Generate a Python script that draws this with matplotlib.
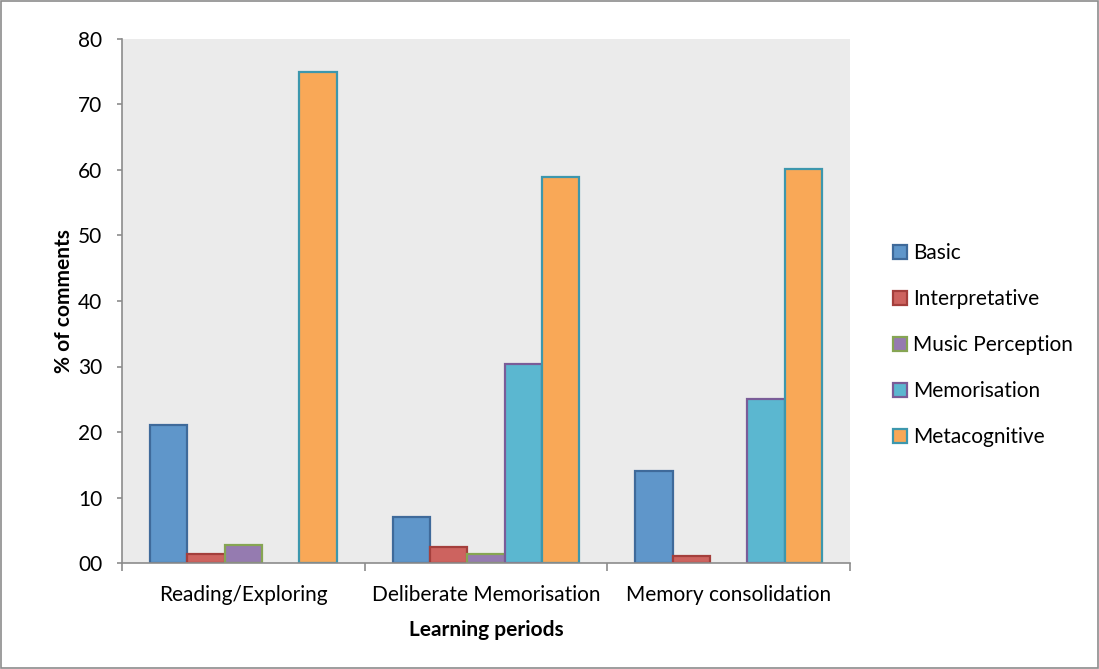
import numpy as np
import matplotlib.pyplot as plt
from matplotlib.patches import Patch, Rectangle

# data
periods = ['Reading/Exploring', 'Deliberate Memorisation', 'Memory consolidation']
series = ['Basic', 'Interpretative', 'Music Perception', 'Memorisation', 'Metacognitive']
basic = [21.1, 7.0, 14.1]
interpretative = [1.4, 2.4, 1.1]
music_perception = [2.7, 1.4, 0.0]
memorisation = [0.0, 30.4, 25.1]
metacognitive = [75.0, 59.0, 60.1]
yticks = [0, 10, 20, 30, 40, 50, 60, 70, 80]
ytick_labels = ['00', '10', '20', '30', '40', '50', '60', '70', '80']

values = [basic, interpretative, music_perception, memorisation, metacognitive]
fills = ['#5F96CA', '#CD635F', '#957BB0', '#5BB7D0', '#F9A857']
edges = ['#3F6A9A', '#A43F3C', '#86A553', '#7A5C98', '#3D97AD']

plt.rcParams['font.family'] = ['Lato', 'DejaVu Sans']
fs = 15

fig = plt.figure(figsize=(10.99, 6.69), dpi=100)
ax = fig.add_axes([122 / 1099, 1 - 563 / 669, (850 - 122) / 1099, (563 - 39) / 669])
ax.set_facecolor('#EBEBEB')

# outer frame like the Excel chart area
fig.patches.append(Rectangle((0.001, 0.001), 0.998, 0.997, transform=fig.transFigure,
                             fill=False, edgecolor='#8C8C8C', linewidth=1.2))

n = len(series)
w = 1 / (n + 1.5)
x = np.arange(len(periods))
for j, (vals, fc, ec) in enumerate(zip(values, fills, edges)):
    v = np.array(vals, dtype=float)
    v = np.where(v > 0, v, np.nan)
    ax.bar(x + (j - (n - 1) / 2) * w, v, width=w, color=fc, edgecolor=ec,
           linewidth=1.6, zorder=3)

ax.set_xlim(-0.5, len(periods) - 0.5)
ax.set_ylim(0, 80)
ax.set_yticks(yticks)
ax.set_yticklabels(ytick_labels, fontsize=fs)
ax.set_xticks(x)
ax.set_xticklabels(periods, fontsize=fs)
ax.tick_params(axis='x', length=0, pad=16)
ax.tick_params(axis='y', length=3.6, width=1.2, color='#8C8C8C', pad=10.5)
# group boundary ticks
ax.set_xticks(np.arange(len(periods) + 1) - 0.5, minor=True)
ax.tick_params(axis='x', which='minor', length=6, width=1.2, color='#8C8C8C')

for s in ['top', 'right']:
    ax.spines[s].set_visible(False)
for s in ['left', 'bottom']:
    ax.spines[s].set_color('#8C8C8C')
    ax.spines[s].set_linewidth(1.2)
    ax.spines[s].set_zorder(4)

ax.set_ylabel('% of comments', fontsize=fs, fontweight='bold', labelpad=3)
ax.set_xlabel('Learning periods', fontsize=fs, fontweight='bold', labelpad=11)

handles = [Patch(facecolor=fc, edgecolor=ec, linewidth=1.6) for fc, ec in zip(fills, edges)]
fig.legend(handles, series, loc='center left', bbox_to_anchor=(874 / 1099, 1 - 345 / 669),
           frameon=False, fontsize=fs, handlelength=0.67, handleheight=0.67,
           handletextpad=0.3, labelspacing=1.25)

fig.savefig('out.png', dpi=100)
